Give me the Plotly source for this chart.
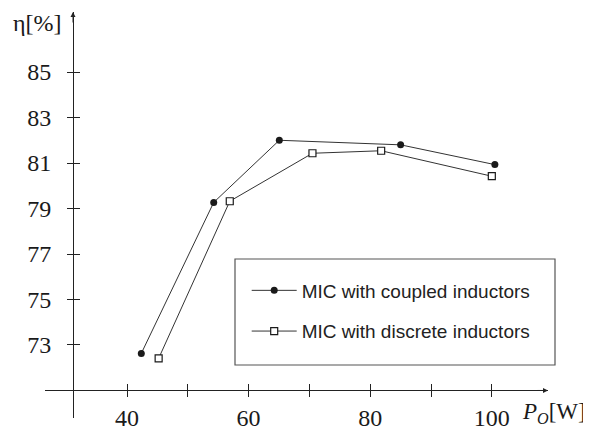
import plotly.graph_objects as go

# Data
coupled_x = [42.35, 54.26, 65.05, 85.0, 100.5]
coupled_y = [72.63, 79.27, 82.00, 81.80, 80.93]
discrete_x = [45.2, 56.9, 70.5, 81.8, 100.0]
discrete_y = [72.41, 79.32, 81.43, 81.54, 80.42]
coupled_name = "MIC with coupled inductors"
discrete_name = "MIC with discrete inductors"
x_tickvals = [40, 50, 60, 70, 80, 90, 100]
x_ticktext = ["40", "", "60", "", "80", "", "100"]
y_tickvals = [73, 75, 77, 79, 81, 83, 85]
y_ticktext = ["73", "75", "77", "79", "81", "83", "85"]

X_RANGE = [26.51, 109.24]
Y_RANGE = [69.79, 87.64]
X_CROSS = 31.12   # where the y-axis crosses the x-axis
Y_CROSS = 71.0    # where the x-axis crosses the y-axis

OFF = 8  # page body margin
W, H = 591 - OFF, 432 - OFF
ML, MR, MT, MB = 45 - OFF, 43, 12 - OFF, 14
PW, PH = W - ML - MR, H - MT - MB


def px_x(p):  # screen pixel -> paper fraction
    return (p - OFF - ML) / PW


def px_y(p):
    return (H - MB - (p - OFF)) / PH


LINE_COL = "#333333"
AX_COL = "#222222"
SERIF = "Liberation Serif, Times New Roman, serif"
SANS = "Liberation Sans, Arial, sans-serif"
TXT = "#1a1a1a"

fig = go.Figure()
fig.add_trace(go.Scatter(
    x=coupled_x, y=coupled_y, mode="lines+markers", name=coupled_name,
    line=dict(color=LINE_COL, width=1),
    marker=dict(symbol="circle", size=7, color="#1a1a1a", line=dict(width=0)),
    legendgroup="a", hoverinfo="skip"))
fig.add_trace(go.Scatter(
    x=discrete_x, y=discrete_y, mode="lines+markers", name=discrete_name,
    line=dict(color=LINE_COL, width=1),
    marker=dict(symbol="square", size=7, color="white", line=dict(width=1.2, color="#1a1a1a")),
    legendgroup="b", hoverinfo="skip"))
# hidden trace to activate overlay axes (for crossing tick marks)
fig.add_trace(go.Scatter(
    x=coupled_x, y=coupled_y, xaxis="x2", yaxis="y2", mode="markers",
    marker=dict(opacity=0), showlegend=False, hoverinfo="skip"))

xpos = (Y_CROSS - Y_RANGE[0]) / (Y_RANGE[1] - Y_RANGE[0])
ypos = (X_CROSS - X_RANGE[0]) / (X_RANGE[1] - X_RANGE[0])

common_x = dict(range=X_RANGE, tickvals=x_tickvals, showgrid=False, zeroline=False,
                anchor="free", position=xpos, tickcolor=AX_COL, ticklen=6, tickwidth=1,
                automargin=False, fixedrange=True)
common_y = dict(range=Y_RANGE, tickvals=y_tickvals, showgrid=False, zeroline=False,
                anchor="free", position=ypos, tickcolor=AX_COL, ticklen=6, tickwidth=1,
                automargin=False, fixedrange=True)

fig.update_layout(
    width=W, height=H,
    margin=dict(l=ML, r=MR, t=MT, b=MB, autoexpand=False),
    paper_bgcolor="white", plot_bgcolor="white",
    showlegend=True,
    xaxis=dict(**common_x, ticks="outside", ticktext=x_ticktext,
               showline=True, linecolor=AX_COL, linewidth=1,
               tickfont=dict(family=SERIF, size=24, color=TXT),
               ticklabelstandoff=0),
    yaxis=dict(**common_y, ticks="outside", ticktext=y_ticktext,
               showline=True, linecolor=AX_COL, linewidth=1,
               tickfont=dict(family=SERIF, size=24, color=TXT),
               ticklabelstandoff=11),
    xaxis2=dict(**common_x, overlaying="x", ticks="inside", showticklabels=False, showline=False),
    yaxis2=dict(**common_y, overlaying="y", ticks="inside", showticklabels=False, showline=False),
    legend=dict(x=px_x(246.7), y=px_y(311), xref="paper", yref="paper",
                xanchor="left", yanchor="middle",
                font=dict(family=SANS, size=19, color="#222222"),
                bgcolor="rgba(0,0,0,0)", borderwidth=0, itemwidth=45,
                tracegroupgap=13, traceorder="grouped"),
)

# Legend frame
fig.add_shape(type="rect", xref="paper", yref="paper",
              x0=px_x(235), x1=px_x(555), y0=px_y(365), y1=px_y(259),
              line=dict(color="#555555", width=1.2), fillcolor="rgba(0,0,0,0)")

# Arrowheads on axes
fig.add_annotation(x=X_RANGE[1], y=Y_CROSS, xref="x", yref="y", text="", showarrow=True,
                   ax=-12, ay=0, arrowhead=2, arrowsize=1, arrowwidth=1, arrowcolor=AX_COL)
fig.add_annotation(x=X_CROSS, y=Y_RANGE[1], xref="x", yref="y", text="", showarrow=True,
                   ax=0, ay=12, arrowhead=2, arrowsize=1, arrowwidth=1, arrowcolor=AX_COL)

# Axis titles
fig.add_annotation(x=X_CROSS, y=87.15, xref="x", yref="y", text="η[%]", showarrow=False,
                   xanchor="right", yanchor="middle", xshift=-9,
                   font=dict(family=SERIF, size=24, color=TXT))
fig.add_annotation(x=px_x(520), y=Y_CROSS, xref="paper", yref="y",
                   text="<i>P</i><sub><i>O</i></sub>[W]", showarrow=False,
                   xanchor="left", yanchor="top", yshift=-7,
                   font=dict(family=SERIF, size=23, color=TXT))

fig.write_html("out.html")
